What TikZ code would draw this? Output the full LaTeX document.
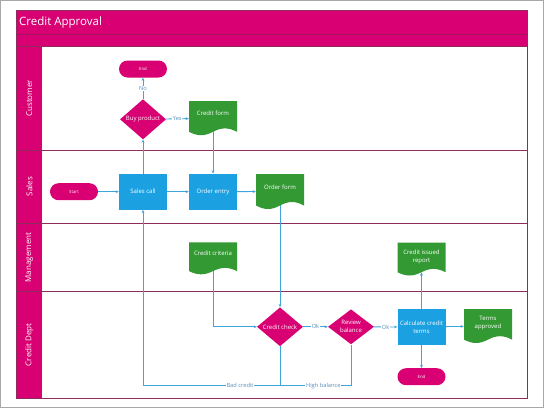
\documentclass[tikz,border=0pt]{standalone}
\usepackage{fontspec}
\newfontfamily\osans{Open Sans}
\usetikzlibrary{shapes.geometric,arrows.meta,calc}
\definecolor{berry}{HTML}{D80073}
\definecolor{cyanb}{HTML}{1BA1E2}
\definecolor{greenb}{HTML}{339933}
\definecolor{linkc}{HTML}{3FA4DC}
\definecolor{lanel}{HTML}{8E2C5C}
\definecolor{titlel}{HTML}{A0145E}
\definecolor{lblc}{HTML}{5A8FC0}
\definecolor{framegray}{HTML}{A8A8A8}
\pgfdeclarelayer{lanes}
\pgfdeclarelayer{links}
\pgfsetlayers{lanes,links,main}
\newcommand\nodefont{\osans\fontsize{6}{8}\selectfont}
\newcommand\tinyfont{\osans\fontsize{4.3}{5}\selectfont}
\begin{document}
\begin{tikzpicture}[x=1pt,y=-1pt,font=\osans,
  laneline/.style={draw=lanel,line width=0.8pt},
  lanelabel/.style={rotate=90,text=white,font=\osans\fontsize{8}{10}\selectfont,inner sep=0pt},
  pill/.style={rectangle,rounded corners=8.5pt,fill=berry,minimum width=48pt,minimum height=17pt,inner sep=0pt,text=white,font=\tinyfont},
  procbox/.style={rectangle,fill=cyanb,minimum width=48pt,minimum height=36pt,inner sep=1pt,text=white,align=center,font=\nodefont},
  decision/.style={diamond,fill=berry,minimum width=46pt,minimum height=35pt,inner sep=0pt,text=white,align=center,font=\nodefont},
  doc/.style={rectangle,inner sep=0pt,minimum width=48pt,minimum height=34pt,text=white,align=center,font=\nodefont,text depth=9.4pt,
    path picture={
      \fill[greenb] let \p1=(path picture bounding box.south west), \p2=(path picture bounding box.north east),
        \n1={\x2-\x1}, \n2={\y2-\y1} in
        (\x1,\y2) -- (\x2,\y2) -- (\x2,{\y1+0.1*\n2})
        .. controls ({\x2-0.18*\n1},{\y1+0.2333*\n2}) and ({\x1+0.68*\n1},{\y1+0.2333*\n2}) .. ({\x1+0.5*\n1},{\y1+0.1*\n2})
        .. controls ({\x1+0.32*\n1},{\y1-0.0333*\n2}) and ({\x1+0.18*\n1},{\y1-0.0333*\n2}) .. (\x1,{\y1+0.1*\n2})
        -- cycle;
    }},
  twoline/.style={text depth=6.4pt},
  link/.style={draw=linkc,line width=0.8pt},
  arr/.style={link,-{Stealth[length=3.2pt,width=2.8pt]}},
  lbl/.style={fill=white,inner sep=0.6pt,text=lblc,font=\osans\fontsize{5.7}{7}\selectfont}
]
\useasboundingbox (0,0) rectangle (544,408);
\begin{pgfonlayer}{lanes}
  \fill[white] (0,0) rectangle (544,408);
  \draw[framegray,line width=1pt] (0.5,0.5) rectangle (543.5,407.5);
  \fill[berry] (16.7,10) rectangle (527,46.7);
  \fill[berry] (16.7,46.7) rectangle (41.3,398);
  \draw[titlel,line width=0.8pt] (16.7,34.5) -- (527,34.5);
  \draw[laneline] (16.7,46.7) -- (527,46.7);
  \draw[laneline] (16.7,150) -- (527,150);
  \draw[laneline] (16.7,223.3) -- (527,223.3);
  \draw[laneline] (16.7,291.7) -- (527,291.7);
  \draw[laneline] (41.3,46.7) -- (41.3,398);
  \draw[lanel,line width=1pt] (16.7,10) rectangle (527,398);
\end{pgfonlayer}

\node[anchor=west,text=white,inner sep=0pt,font=\osans\fontsize{11.5}{14}\selectfont] (title) at (19,22.3) {Credit Approval};
\node[lanelabel] (lcust) at (29.3,98.3) {Customer};
\node[lanelabel] (lsales) at (29.3,186.7) {Sales};
\node[lanelabel] (lman) at (29.3,257.5) {Management};
\node[lanelabel] (lcred) at (29.3,344.8) {Credit Dept};

\node[pill] (end1) at (143,69) {End};
\node[decision] (buy) at (143,119.3) {Buy product};
\node[doc] (cform) at (213,118.2) {Credit form};
\node[pill] (start) at (74,191.7) {Start};
\node[procbox] (sales) at (143,191.7) {Sales call};
\node[procbox] (oentry) at (213,191.7) {Order entry};
\node[doc,minimum height=35pt] (oform) at (280,191.5) {Order form};
\node[doc,minimum height=32pt] (ccrit) at (213,258.3) {Credit criteria};
\node[decision] (ccheck) at (280,326.8) {Credit check};
\node[decision] (review) at (351,326.8) {Review\\balance};
\node[procbox] (calc) at (421.5,327) {Calculate credit\\terms};
\node[doc,twoline] (tapp) at (488,326) {Terms\\approved};
\node[doc,twoline,minimum height=33pt] (crep) at (421.5,259) {Credit issued\\report};
\node[pill] (end2) at (421.5,376.7) {End};
\coordinate (bot) at (0,385.7);

\begin{pgfonlayer}{links}
  \draw[arr] (start) -- (sales);
  \draw[arr] (sales) -- (oentry);
  \draw[arr] (oentry) -- (oform);
  \draw[arr] (sales) -- (buy);
  \draw[arr] (buy) -- node[lbl] {No} (end1);
  \draw[arr] (buy) -- node[lbl] {Yes} (cform);
  \draw[arr] (cform.center) -- (oentry);
  \draw[arr] (oform.center) -- (ccheck);
  \draw[arr] (ccrit.center) |- (ccheck);
  \draw[arr] (ccheck) -- node[lbl] {Ok} (review);
  \draw[arr] (review) -- node[lbl] {Ok} (calc);
  \draw[arr] (calc) -- (tapp);
  \draw[arr] (calc) -- ($(crep.south)+(0,-3.3)$);
  \draw[arr] (calc) -- (end2);
  \draw[arr] (ccheck) -- (ccheck |- bot) -| node[lbl,pos=0.146] {Bad credit} (sales);
  \draw[link] (review) -- (review |- bot) -- node[lbl,pos=0.39] {High balance} (ccheck |- bot);
\end{pgfonlayer}
\end{tikzpicture}
\end{document}
